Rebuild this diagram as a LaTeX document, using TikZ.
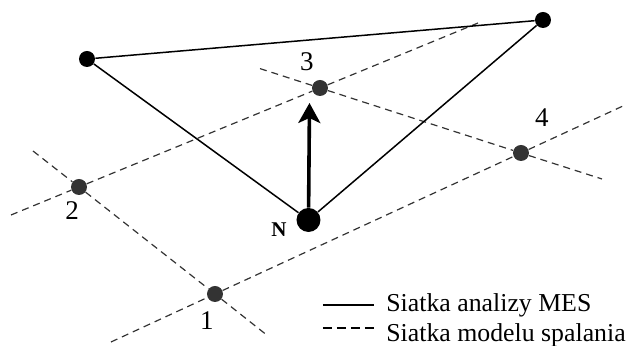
\documentclass[tikz,border=0pt]{standalone}
\usepackage{fontspec}
\setmainfont{Liberation Serif}
\usetikzlibrary{arrows.meta}
\definecolor{gridgray}{HTML}{333333}
\begin{document}
\begin{tikzpicture}[x=0.5pt,y=-0.5pt,
  vert/.style={circle,fill=black,inner sep=0pt,minimum size=8pt},
  bigvert/.style={circle,fill=black,inner sep=0pt,minimum size=12pt},
  gpt/.style={circle,fill=gridgray,inner sep=0pt,minimum size=8pt},
  mes/.style={line width=0.75pt,black},
  grid/.style={line width=0.6pt,gridgray,dash pattern=on 3.5pt off 2.5pt},
  lab/.style={font=\fontsize{13.5pt}{15pt}\selectfont,inner sep=0pt},
  legtext/.style={font=\fontsize{12.9pt}{15pt}\selectfont,inner sep=0pt,anchor=base west}]
\useasboundingbox (0,0) rectangle (629,346);
% mesh vertices
\node[vert] (A) at (87,59) {};
\node[vert] (B) at (543,20) {};
\node[bigvert] (N) at (308.5,220) {};
% grid points
\node[gpt] (g1) at (215,294) {};
\node[gpt] (g2) at (79,187) {};
\node[gpt] (g3) at (320,88) {};
\node[gpt] (g4) at (521,153) {};
% free ends of grid lines
\coordinate (e23a) at (11,215);
\coordinate (e23b) at (478,23);
\coordinate (e34a) at (260,68.6);
\coordinate (e34b) at (602,179);
\coordinate (e21a) at (33,151);
\coordinate (e21b) at (268,336);
\coordinate (e14a) at (111,342);
\coordinate (e14b) at (623,106);
\coordinate (tip) at (309.5,103);
% grid lines
\draw[grid] (e23a) -- (g2) -- (g3) -- (e23b);
\draw[grid] (e34a) -- (g3) -- (g4) -- (e34b);
\draw[grid] (e21a) -- (g2) -- (g1) -- (e21b);
\draw[grid] (e14a) -- (g1) -- (g4) -- (e14b);
% mesh element
\draw[mes] (A) -- (B) -- (N) -- (A);
% arrow
\draw[line width=1.8pt,-{Stealth[length=10pt,width=11pt,inset=2.5pt]}] (N) -- (tip);
% labels
\node[lab] (l1) at (207,321) {1};
\node[lab] (l2) at (72,211) {2};
\node[lab] (l3) at (307,62) {3};
\node[lab] (l4) at (542,118) {4};
\node[inner sep=0pt,font=\fontsize{10.5pt}{12pt}\selectfont\bfseries] (lN) at (279,230) {N};
% legend
\coordinate (s1) at (323,305);
\coordinate (s2) at (374,305);
\coordinate (d1) at (323,328);
\coordinate (d2) at (374,328);
\draw[mes] (s1) -- (s2);
\draw[line width=0.75pt,black,dash pattern=on 4.5pt off 2.5pt] (d1) -- (d2);
\node[legtext] (t1) at (386,312) {Siatka analizy MES};
\node[legtext] (t2) at (386,342) {Siatka modelu spalania};
\end{tikzpicture}
\end{document}
